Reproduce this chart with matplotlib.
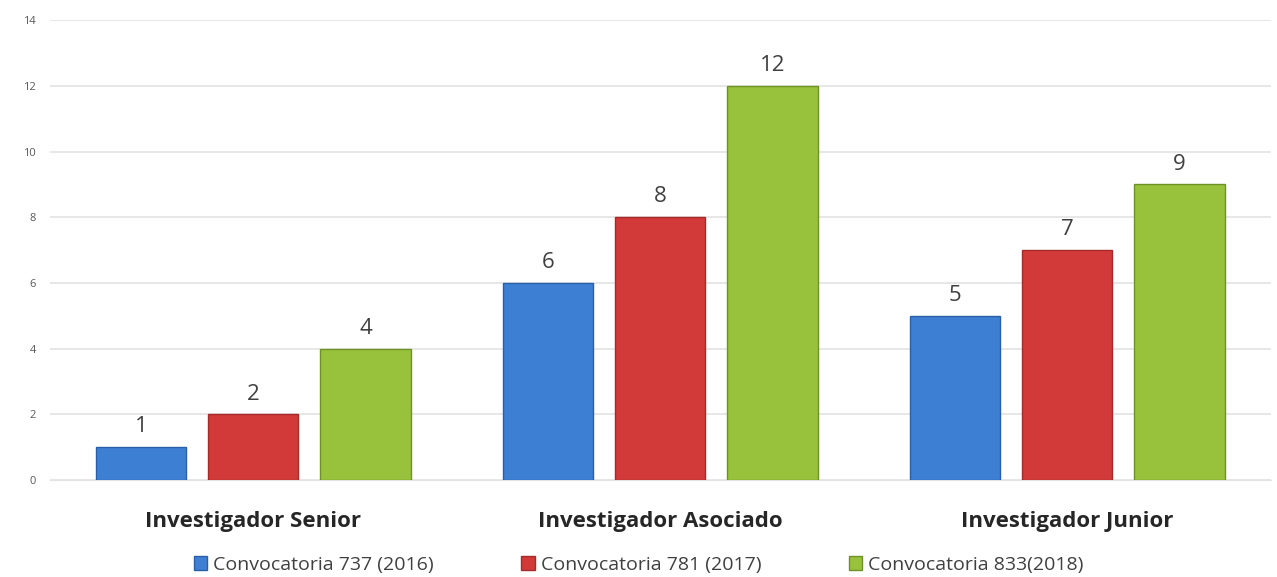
import matplotlib
matplotlib.use('Agg')
import matplotlib.pyplot as plt
import numpy as np

categories = ["Investigador Senior", "Investigador Asociado", "Investigador Junior"]
series_names = ["Convocatoria 737 (2016)", "Convocatoria 781 (2017)", "Convocatoria 833(2018)"]
v2016 = [1, 6, 5]
v2017 = [2, 8, 7]
v2018 = [4, 12, 9]
yticks = [0, 2, 4, 6, 8, 10, 12, 14]

colors = ["#3d7fd3", "#d23a3a", "#98c23b"]
edges = ["#2a5ea8", "#a52a2a", "#6e9228"]

plt.rcParams['font.family'] = ['Open Sans', 'DejaVu Sans']

fig = plt.figure(figsize=(12.77, 5.77), dpi=100, facecolor="white")
ax = fig.add_axes([0.039, 0.168, 0.956, 0.797])

x = np.arange(len(categories))
width = 0.222
step = 0.276

for i, (vals, name) in enumerate(zip([v2016, v2017, v2018], series_names)):
    pos = x + (i - 1) * step
    ax.bar(pos, vals, width, color=colors[i], edgecolor=edges[i], linewidth=1.0,
           label=name, zorder=3)
    for p, v in zip(pos, vals):
        ax.text(p, v + 0.3, str(v), ha="center", va="bottom", fontsize=16, color="#404040")

ax.set_xlim(-0.5, 2.5)
ax.set_ylim(0, 14)
ax.set_yticks(yticks)
ax.set_yticklabels([str(t) for t in yticks], fontsize=8, color="#595959")
ax.set_xticks(x)
ax.set_xticklabels(categories, fontsize=16, fontweight="bold", color="#262626")
ax.tick_params(axis="x", length=0, pad=22)
ax.tick_params(axis="y", length=0, pad=10)
ax.grid(axis="y", color="#e3e3e3", linewidth=1.2, zorder=0)
for s in ["top", "right", "left"]:
    ax.spines[s].set_visible(False)
ax.spines["bottom"].set_color("#e3e3e3")

leg = fig.legend(loc="lower center", bbox_to_anchor=(0.5, -0.025), ncol=3, frameon=False,
                 fontsize=14, handlelength=0.7, handleheight=0.7, handletextpad=0.3,
                 columnspacing=4.5, labelcolor="#404040")

plt.savefig("out.png", dpi=100, facecolor="white")
